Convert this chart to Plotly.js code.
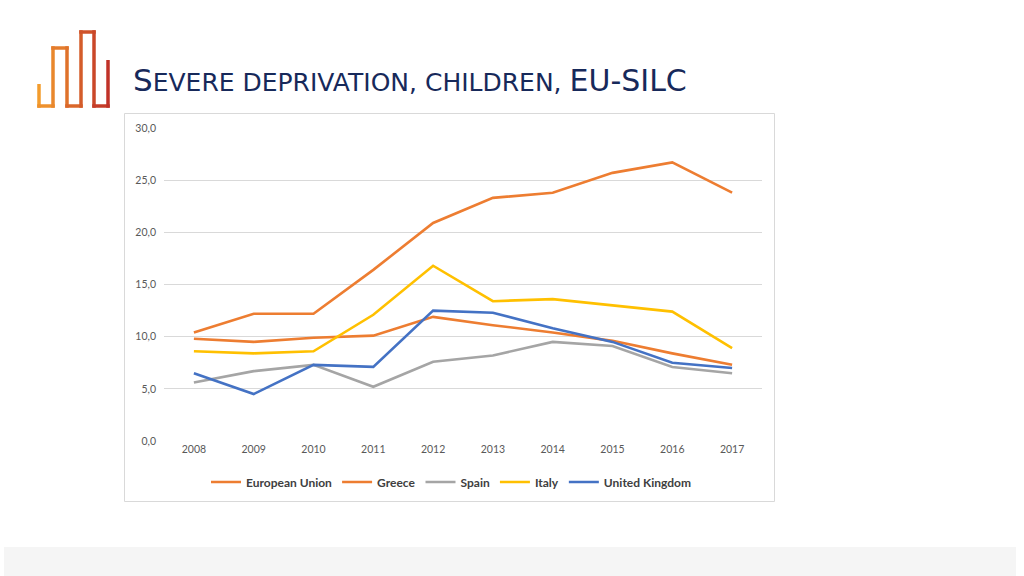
<!DOCTYPE html>
<html>
<head>
<meta charset="utf-8">
<script src="https://cdn.plot.ly/plotly-3.0.1.min.js"></script>
<style>html,body{margin:0;padding:0;background:#fff;}#chart{width:1024px;height:576px;}</style>
</head>
<body>
<div id="chart"></div>
<script>
// ---- data ----
const years = [2008, 2009, 2010, 2011, 2012, 2013, 2014, 2015, 2016, 2017];
const seriesNames = ["European Union", "Greece", "Spain", "Italy", "United Kingdom"];
const euValues    = [9.8, 9.5, 9.9, 10.1, 11.9, 11.1, 10.4, 9.6, 8.4, 7.3];
const greeceValues= [10.4, 12.2, 12.2, 16.4, 20.9, 23.3, 23.8, 25.7, 26.7, 23.8];
const spainValues = [5.6, 6.7, 7.3, 5.2, 7.6, 8.2, 9.5, 9.1, 7.1, 6.5];
const italyValues = [8.6, 8.4, 8.6, 12.1, 16.8, 13.4, 13.6, 13.0, 12.4, 8.9];
const ukValues    = [6.5, 4.5, 7.3, 7.1, 12.5, 12.3, 10.8, 9.5, 7.5, 7.0];
const yTicks = [0, 5, 10, 15, 20, 25, 30];

const colors = ["#ED7D31", "#ED7D31", "#A5A5A5", "#FFC000", "#4472C4"];
const allValues = [euValues, greeceValues, spainValues, italyValues, ukValues];

// ---- layout geometry (pixels) ----
const W = 1024, H = 576;
const L = 164, R = 762, T = 128, B = 441;
const px = x => (x - L) / (R - L);
const py = y => (B - y) / (B - T);

const traces = seriesNames.map((name, i) => ({
  type: "scatter", mode: "lines", name: name, x: years, y: allValues[i],
  line: {color: colors[i], width: 2.6}, hoverinfo: "x+y+name"
}));

const shapes = [];
// footer band
shapes.push({type:"rect", xref:"paper", yref:"paper", x0:px(4), x1:px(1016), y0:py(547), y1:py(576),
  fillcolor:"#F5F5F5", line:{width:0}, layer:"below"});
// chart border
shapes.push({type:"rect", xref:"paper", yref:"paper", x0:px(124.5), x1:px(774.5), y0:py(113.5), y1:py(501.5),
  fillcolor:"rgba(0,0,0,0)", line:{color:"#D9D9D9", width:1}, layer:"below"});

// logo polyline with gradient
const logoPts = [[39,84],[39,106],[53,106],[53,48],[67,48],[67,106],[81,106],[81,32],[94,32],[94,106],[108,106],[108,60]];
const c0 = [243,156,45], c1 = [192,50,40];
const nseg = logoPts.length - 1;
const lw = 3.5;
for (let i = 0; i < nseg; i++) {
  const t = i / (nseg - 1);
  const c = c0.map((v, k) => Math.round(v + (c1[k] - v) * t));
  let [xa, ya] = logoPts[i], [xb, yb] = logoPts[i+1];
  const dx = Math.sign(xb - xa), dy = Math.sign(yb - ya);
  const e = lw / 2;
  if (i > 0) { xa -= dx*e; ya -= dy*e; }
  if (i < nseg - 1) { xb += dx*e; yb += dy*e; }
  shapes.push({type:"line", xref:"paper", yref:"paper", x0:px(xa), y0:py(ya), x1:px(xb), y1:py(yb),
    line:{color:`rgb(${c[0]},${c[1]},${c[2]})`, width:lw}});
}

const titleText = '<span style="font-size:31px">S</span>EVERE DEPRIVATION, CHILDREN, <span style="font-size:30px">EU-SILC</span>';

const layout = {
  width: W, height: H,
  margin: {l: L, r: W - R, t: T, b: H - B, pad: 0},
  paper_bgcolor: "#ffffff", plot_bgcolor: "#ffffff",
  separators: ",.",
  showlegend: true,
  font: {family: "Lato, Carlito, Calibri, sans-serif", color: "#595959", size: 10},
  xaxis: {
    range: [2007.5, 2017.5], tickmode: "array", tickvals: years, ticktext: years.map(String),
    showgrid: false, zeroline: false, showline: false, ticks: "", fixedrange: true,
    tickfont: {size: 10.5, color: "#595959"}
  },
  yaxis: {
    range: [0, 30], tickmode: "array", tickvals: yTicks, tickformat: ".1f",
    showgrid: true, gridcolor: "#D9D9D9", gridwidth: 1, zeroline: false, showline: false, ticks: "",
    tickfont: {size: 10.5, color: "#595959"}, fixedrange: true, ticklabelstandoff: 7
  },
  legend: {
    orientation: "h", x: px(451), xanchor: "center", y: py(482), yanchor: "middle",
    font: {size: 12, color: "#404040", weight: "bold"}, itemwidth: 30, tracegroupgap: 0,
    bgcolor: "rgba(0,0,0,0)"
  },
  shapes: shapes,
  annotations: [{
    xref: "paper", yref: "paper", x: px(131), y: py(80), xanchor: "left", yanchor: "middle",
    text: titleText, showarrow: false,
    font: {family: "DejaVu Sans, Verdana, sans-serif", size: 25, color: "#17295A"}
  }]
};

Plotly.newPlot("chart", traces, layout, {displayModeBar: false, staticPlot: true});
</script>
</body>
</html>
